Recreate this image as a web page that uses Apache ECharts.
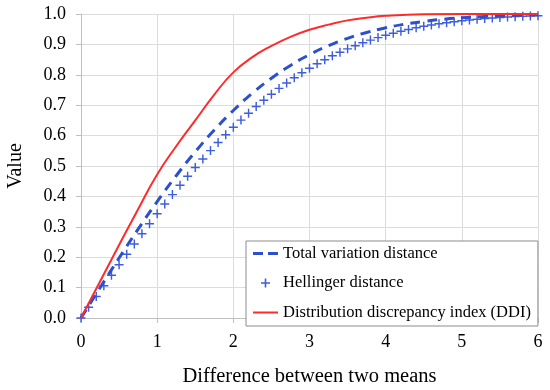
<!DOCTYPE html>
<html>
<head>
<meta charset="utf-8">
<script src="https://cdn.jsdelivr.net/npm/echarts@6/dist/echarts.min.js"></script>
<style>
html,body{margin:0;padding:0;background:#fff;}
#chart{width:550px;height:390px;}
</style>
</head>
<body>
<div id="chart"></div>
<script>
// Total variation distance (dashed line)
const tvX = [0,0.25,0.5,0.75,1,1.25,1.5,1.75,2,2.25,2.5,2.75,3,3.25,3.5,3.75,4,4.25,4.5,4.75,5,5.25,5.5,5.75,6];
const tvY = [0,0.0995,0.1974,0.2923,0.3829,0.4680,0.5467,0.6184,0.6827,0.7394,0.7887,0.8309,0.8664,0.8958,0.9199,0.9392,0.9545,0.9664,0.9756,0.9825,0.9876,0.9913,0.9940,0.9960,0.9973];

// Hellinger distance (plus markers, step 0.1)
const hdX = [0,0.1,0.2,0.3,0.4,0.5,0.6,0.7,0.8,0.9,1,1.1,1.2,1.3,1.4,1.5,1.6,1.7,1.8,1.9,2,2.1,2.2,2.3,2.4,2.5,2.6,2.7,2.8,2.9,3,3.1,3.2,3.3,3.4,3.5,3.6,3.7,3.8,3.9,4,4.1,4.2,4.3,4.4,4.5,4.6,4.7,4.8,4.9,5,5.1,5.2,5.3,5.4,5.5,5.6,5.7,5.8,5.9,6];
const hdY = [0,0.0354,0.0706,0.1058,0.1407,0.1754,0.2098,0.2437,0.2773,0.3103,0.3428,0.3747,0.4059,0.4364,0.4662,0.4952,0.5233,0.5506,0.5771,0.6026,0.6273,0.6510,0.6737,0.6956,0.7164,0.7363,0.7553,0.7733,0.7904,0.8065,0.8218,0.8362,0.8497,0.8624,0.8742,0.8853,0.8956,0.9052,0.9141,0.9223,0.9299,0.9369,0.9433,0.9491,0.9545,0.9594,0.9638,0.9679,0.9715,0.9748,0.9778,0.9804,0.9828,0.9850,0.9869,0.9885,0.9900,0.9913,0.9925,0.9935,0.9944];

// Distribution discrepancy index (DDI), red solid line
const ddiX = [0,0.25,0.5,0.75,1,1.25,1.5,1.75,2,2.25,2.5,2.75,3,3.25,3.5,3.75,4,4.5,5,5.5,6];
const ddiY = [0,0.12,0.24,0.358,0.472,0.565,0.650,0.735,0.808,0.858,0.895,0.925,0.948,0.965,0.979,0.988,0.994,0.999,1.0,1.0,1.0];

const seriesNames = ['Total variation distance','Hellinger distance','Distribution discrepancy index (DDI)'];
const xTicks = [0,1,2,3,4,5,6];
const yTicks = [0,0.1,0.2,0.3,0.4,0.5,0.6,0.7,0.8,0.9,1.0];

const zip = (xs, ys) => xs.map((x, i) => [x, ys[i]]);
const FONT = '"Liberation Serif","Times New Roman",serif';
const plus = 'path://M4.2,0H5.8V4.2H10V5.8H5.8V10H4.2V5.8H0V4.2H4.2Z';
const dashIcon = 'path://M0,5.5H10V8.5H0Z M15,5.5H25V8.5H15Z';
const lineIcon = 'path://M0,6H25V8H0Z';
const plusIcon = 'path://M0,0L0.01,0.01M25,14L24.99,13.99M11.7,2.5H13.3V6.2H17V7.8H13.3V11.5H11.7V7.8H8V6.2H11.7Z';

const BLUE_DASH = '#2c4fcf';
const BLUE_PLUS = '#3c5ddc';
const RED = '#ff2b2b';

const chart = echarts.init(document.getElementById('chart'), null, {renderer:'canvas'});
chart.setOption({
  animation: false,
  backgroundColor: '#ffffff',
  grid: {left: 81, right: 12, top: 14, bottom: 72, containLabel: false, outerBoundsMode: 'none'},
  xAxis: {
    type: 'value', min: xTicks[0], max: xTicks[xTicks.length-1], interval: 1,
    name: 'Difference between two means', nameLocation: 'middle', nameGap: 48,
    nameTextStyle: {fontFamily: FONT, fontSize: 20.5, color: '#000'},
    axisLine: {show: true, lineStyle: {color: '#bfbfbf', width: 1}},
    axisTick: {show: true, length: 5, lineStyle: {color: '#bfbfbf'}},
    axisLabel: {fontFamily: FONT, fontSize: 18, color: '#000', margin: 15},
    splitLine: {show: true, lineStyle: {color: '#dcdcdc', width: 1}}
  },
  yAxis: {
    type: 'value', min: yTicks[0], max: yTicks[yTicks.length-1], interval: 0.1,
    name: 'Value', nameLocation: 'middle', nameGap: 55, nameRotate: 90,
    nameTextStyle: {fontFamily: FONT, fontSize: 20, color: '#000'},
    axisLine: {show: true, lineStyle: {color: '#bfbfbf', width: 1}},
    axisTick: {show: true, length: 5, lineStyle: {color: '#bfbfbf'}},
    axisLabel: {fontFamily: FONT, fontSize: 18, color: '#000', margin: 15,
      formatter: v => v.toFixed(1)},
    splitLine: {show: true, lineStyle: {color: '#dcdcdc', width: 1}}
  },
  legend: {
    orient: 'vertical', left: 246, top: 241,
    backgroundColor: '#ffffff', borderColor: '#8c8c8c', borderWidth: 1,
    padding: [4, 7, 5, 7], itemGap: 12.5, itemWidth: 25, itemHeight: 14,
    textStyle: {fontFamily: FONT, fontSize: 16.5, color: '#000'},
    data: [
      {name: seriesNames[0], icon: dashIcon, itemStyle: {color: BLUE_DASH}},
      {name: seriesNames[1], icon: plusIcon, itemStyle: {color: BLUE_PLUS}},
      {name: seriesNames[2], icon: lineIcon, itemStyle: {color: RED}}
    ]
  },
  series: [
    {
      name: seriesNames[0], type: 'line', data: zip(tvX, tvY), smooth: true,
      symbol: 'none', color: BLUE_DASH,
      lineStyle: {color: BLUE_DASH, width: 3, type: [10, 7]}, z: 3
    },
    {
      name: seriesNames[1], type: 'line', data: zip(hdX, hdY),
      symbol: plus, symbolSize: 9, showSymbol: true, color: BLUE_PLUS,
      itemStyle: {color: BLUE_PLUS},
      lineStyle: {opacity: 0, width: 0}, z: 2
    },
    {
      name: seriesNames[2], type: 'line', data: zip(ddiX, ddiY), smooth: true,
      symbol: 'none', color: RED,
      lineStyle: {color: RED, width: 2}, z: 4
    }
  ]
});
</script>
</body>
</html>
